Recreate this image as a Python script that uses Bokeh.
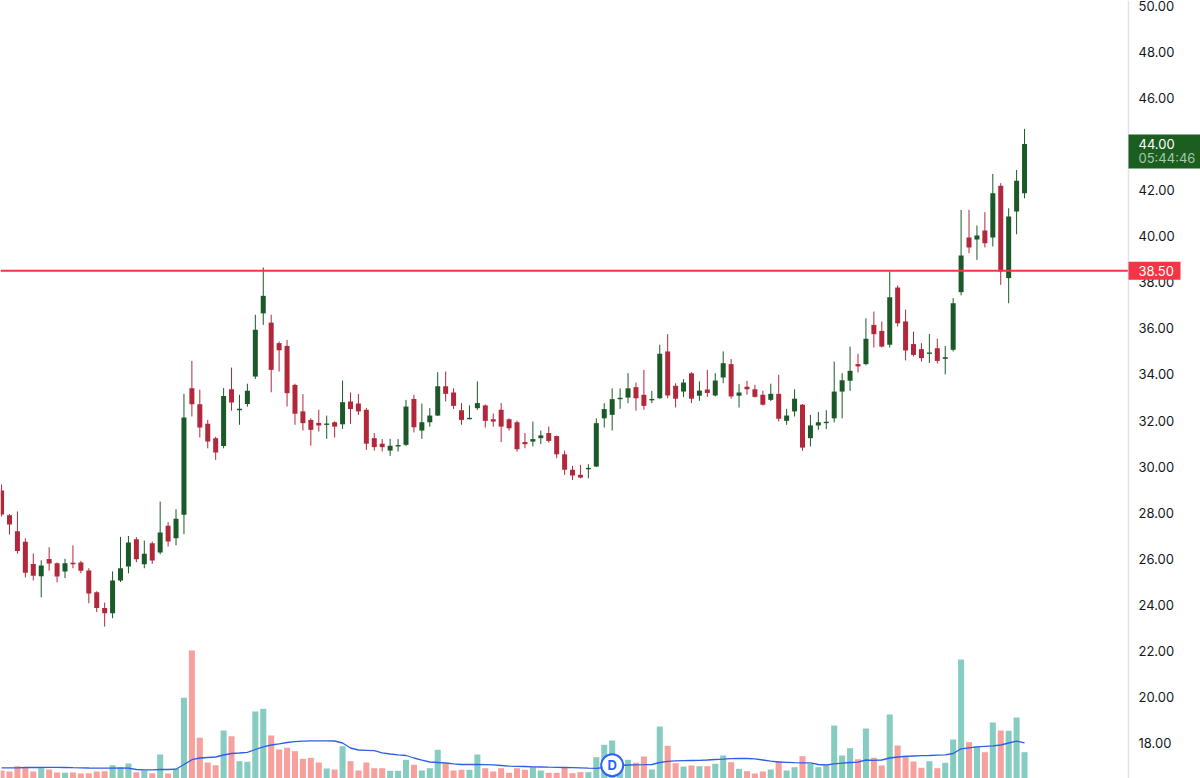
from bokeh.plotting import figure
from bokeh.models import ColumnDataSource, Range1d, FixedTicker, NumeralTickFormatter, Span
from bokeh.embed import file_html
from bokeh.resources import INLINE
from bokeh.core.properties import value

# ---------------- data ----------------
opens = [28.97, 27.9, 27.2, 26.75, 25.78, 25.25, 26.0, 25.82, 25.46, 25.83,
         25.85, 25.5, 24.56, 23.87, 23.65, 25.07, 25.67, 26.86, 25.77, 26.68,
         26.28, 27.44, 26.9, 27.92, 33.4, 32.71, 31.86, 31.24, 30.9, 33.36,
         32.47, 32.72, 33.91, 36.65, 36.25, 35.36, 35.24, 33.55, 32.4, 32.03,
         31.9, 31.83, 31.93, 31.84, 32.83, 32.74, 32.47, 31.24, 31.0, 30.7,
         30.9, 30.95, 32.94, 31.57, 31.93, 32.22, 33.49, 33.22, 32.45, 32.08,
         32.54, 32.66, 32.06, 32.47, 32.06, 31.93, 31.07, 31.09, 31.24, 31.46,
         31.33, 30.54, 29.87, 29.65, 29.9, 30.01, 32.1, 32.25, 32.95, 33.0,
         33.45, 33.12, 32.89, 32.97, 35.0, 33.51, 33.26, 34.05, 33.08, 33.35,
         33.09, 33.87, 34.45, 33.08, 33.47, 33.36, 33.12, 32.9, 33.16, 31.99,
         32.4, 32.69, 31.24, 31.79, 31.91, 32.1, 33.26, 33.73, 34.45, 34.45,
         36.15, 35.89, 35.29, 37.77, 36.3, 35.32, 35.1, 34.91, 35.14, 34.68,
         35.07, 37.57, 39.94, 39.85, 40.24, 39.94, 42.18, 38.18, 41.07, 41.86]

highs = [29.23, 27.95, 28.06, 26.9, 26.24, 25.94, 26.51, 25.85, 26.01, 26.59,
         25.92, 25.6, 24.6, 24.11, 25.46, 26.96, 27.0, 26.95, 26.8, 26.76,
         28.49, 27.6, 28.16, 33.16, 34.59, 33.34, 32.03, 31.3, 33.41, 34.3,
         33.12, 33.6, 36.59, 38.64, 36.59, 35.43, 35.5, 33.6, 33.15, 32.1,
         32.47, 32.22, 31.97, 33.74, 33.22, 33.15, 32.55, 31.46, 31.2, 31.21,
         31.2, 32.9, 33.12, 32.74, 32.54, 34.1, 34.13, 33.4, 32.76, 32.66,
         33.7, 32.7, 32.31, 32.76, 32.1, 32.0, 31.46, 31.96, 31.57, 31.74,
         31.35, 30.7, 30.04, 30.08, 30.11, 32.1, 32.76, 33.4, 33.4, 34.06,
         33.65, 34.2, 33.29, 35.29, 35.75, 33.62, 33.8, 34.1, 33.7, 34.2,
         34.06, 35.0, 34.67, 33.58, 33.73, 33.55, 33.29, 33.6, 33.99, 32.51,
         33.36, 32.72, 32.25, 32.37, 32.45, 34.56, 34.06, 35.21, 34.9, 36.44,
         36.73, 36.3, 38.47, 37.86, 36.81, 35.86, 35.36, 35.76, 35.55, 35.24,
         37.31, 41.14, 41.14, 40.46, 41.04, 42.7, 42.3, 41.21, 42.87, 44.65]

lows = [27.84, 27.06, 26.23, 25.2, 25.07, 24.34, 25.49, 24.99, 25.17, 25.6,
        25.38, 24.08, 23.7, 23.07, 23.43, 25.0, 25.38, 25.86, 25.6, 25.79,
        26.2, 26.54, 26.59, 27.08, 32.18, 31.27, 30.8, 30.3, 30.8, 32.43,
        31.82, 32.6, 33.81, 36.15, 33.23, 34.13, 32.61, 31.82, 31.57, 30.92,
        31.53, 31.21, 31.27, 31.64, 31.86, 32.25, 30.73, 30.7, 30.66, 30.47,
        30.66, 30.9, 31.49, 31.21, 31.74, 32.2, 32.83, 32.5, 31.82, 32.06,
        32.47, 31.7, 31.74, 31.07, 31.57, 30.66, 30.8, 30.88, 30.98, 31.05,
        30.37, 29.65, 29.43, 29.5, 29.5, 29.98, 31.7, 31.57, 32.51, 32.76,
        32.43, 32.47, 32.76, 32.95, 32.97, 32.57, 33.02, 32.76, 32.86, 33.03,
        33.05, 33.62, 32.95, 32.57, 33.12, 33.0, 32.65, 32.85, 31.96, 31.82,
        32.18, 30.69, 30.88, 31.6, 31.63, 31.92, 32.1, 33.29, 34.09, 34.4,
        35.17, 35.17, 35.17, 36.08, 34.61, 34.78, 34.56, 34.5, 34.48, 34.01,
        35.0, 37.43, 39.26, 38.97, 39.51, 39.55, 37.89, 37.09, 40.08, 41.64]

closes = [27.93, 27.5, 26.35, 25.4, 25.27, 25.72, 25.8, 25.24, 25.82, 25.78,
          25.49, 24.5, 23.87, 23.65, 25.07, 25.6, 26.72, 25.99, 26.23, 25.94,
          27.15, 26.76, 27.74, 32.14, 32.71, 31.7, 31.1, 30.62, 33.07, 32.79,
          32.5, 33.3, 35.94, 37.41, 34.2, 35.05, 33.19, 32.3, 31.89, 31.6,
          31.79, 31.86, 31.74, 32.8, 32.5, 32.4, 31.0, 30.85, 30.85, 30.91,
          30.92, 32.61, 31.71, 31.93, 32.22, 33.49, 33.16, 32.64, 32.03, 32.1,
          32.76, 31.99, 31.96, 31.74, 31.67, 30.76, 30.98, 31.2, 31.36, 31.12,
          30.54, 29.87, 29.62, 29.53, 29.94, 31.89, 32.5, 32.93, 32.97, 33.4,
          32.97, 32.64, 32.93, 34.9, 33.09, 32.95, 33.65, 32.95, 33.3, 33.2,
          33.74, 34.49, 33.05, 33.22, 33.36, 33.03, 32.69, 33.16, 32.08, 32.22,
          32.95, 30.83, 31.79, 31.93, 31.93, 33.26, 33.75, 34.16, 34.35, 35.55,
          35.75, 35.21, 37.35, 36.22, 35.04, 34.85, 34.71, 34.94, 34.59, 34.75,
          37.09, 39.16, 39.51, 40.03, 39.69, 41.86, 38.47, 40.85, 42.4, 44.0]

# volume in thousands
volumes = [200, 190, 243, 227, 190, 223, 210, 180, 177, 180,
           170, 173, 190, 193, 253, 227, 270, 183, 200, 173,
           360, 170, 217, 927, 1400, 527, 280, 253, 600, 543,
           293, 287, 790, 817, 550, 410, 427, 393, 317, 327,
           280, 220, 210, 443, 293, 200, 280, 223, 223, 197,
           197, 307, 257, 200, 223, 407, 267, 200, 207, 207,
           360, 223, 190, 223, 177, 223, 207, 233, 200, 177,
           177, 227, 173, 183, 183, 333, 457, 500, 270, 307,
           277, 340, 210, 640, 447, 273, 240, 250, 243, 243,
           267, 350, 283, 217, 193, 170, 190, 210, 293, 200,
           233, 343, 267, 233, 250, 650, 350, 423, 313, 620,
           327, 250, 760, 450, 350, 290, 227, 293, 223, 277,
           510, 1310, 483, 443, 383, 680, 600, 597, 730, 383]

volume_ma = [227, 227, 227, 230, 230, 230, 231, 231, 230, 228,
             227, 225, 224, 224, 224, 225, 223, 210, 207, 207,
             210, 210, 213, 260, 308, 325, 330, 335, 355, 370,
             375, 382, 410, 437, 455, 467, 480, 488, 493, 497,
             497, 497, 495, 475, 425, 405, 402, 398, 377, 365,
             357, 350, 325, 304, 285, 280, 275, 267, 260, 260,
             260, 259, 257, 250, 243, 242, 240, 237, 235, 233,
             232, 230, 228, 226, 223, 221, 230, 240, 250, 255,
             257, 258, 260, 280, 292, 296, 298, 300, 302, 305,
             310, 313, 318, 320, 320, 317, 305, 293, 285, 282,
             278, 277, 277, 260, 255, 267, 274, 280, 283, 305,
             302, 305, 325, 335, 342, 345, 348, 350, 353, 356,
             370, 417, 427, 437, 442, 447, 455, 475, 493, 477]

price_ticks = [18, 20, 22, 24, 26, 28, 30, 32, 34, 36, 38, 40, 42, 44, 46, 48, 50]
level_price = 38.50
last_price = 44.00
countdown = "05:44:46"
event_index = [77]
event_text = ["D"]

# ---------------- styling / layout ----------------
GREEN = "#1b5a28"
RED = "#b2283a"
VOL_UP = "#86ccc1"
VOL_DN = "#f7a09d"
LEVEL_RED = "#f23645"
LAST_GREEN = "#1b5e20"
FONT = "Inter"

X0, X1 = -0.135, 151.19          # candle-index range across the canvas
Y0, Y1 = 16.482, 50.217          # price range across the canvas
PX = (X1 - X0) / 1200.0          # index units per pixel
PY = (Y1 - Y0) / 778.0           # price units per pixel
AXIS_X = X1 - 72 * PX            # price-scale separator position
TEXT_X = AXIS_X + 10 * PX

n = len(closes)
idx = list(range(n))
up = [c >= o for o, c in zip(opens, closes)]
colors = [GREEN if u else RED for u in up]
vcolors = [VOL_UP if u else VOL_DN for u in up]
body_top = [max(o, c) for o, c in zip(opens, closes)]
body_bot = [min(o, c) for o, c in zip(opens, closes)]
body_top = [t if t - b >= 0.06 else (t + b) / 2 + 0.03 for t, b in zip(body_top, body_bot)]
body_bot = [b if t - b >= 0.06 else t - 0.06 for t, b in zip(body_top, body_bot)]

p = figure(width=1200, height=778,
           x_range=Range1d(X0, X1), y_range=Range1d(Y0, Y1),
           output_backend="svg", toolbar_location=None,
           x_axis_location=None, y_axis_location="right",
           min_border_left=0, min_border_top=0, min_border_bottom=0, min_border_right=0)
p.outline_line_color = None
p.grid.visible = False
p.background_fill_color = "white"
p.border_fill_color = "white"
p.extra_y_ranges = {"vol": Range1d(120, 7900)}

# price scale: labels pulled back inside the canvas, left-aligned after the separator
ax = p.yaxis[0]
ax.ticker = FixedTicker(ticks=price_ticks)
ax.formatter = NumeralTickFormatter(format="0.00")
ax.major_tick_line_color = None
ax.minor_tick_line_color = None
ax.major_tick_out = 0
ax.major_tick_in = 0
ax.minor_tick_out = 0
ax.major_label_standoff = -62
ax.axis_line_color = None
ax.major_label_text_font = FONT
ax.major_label_text_font_size = "13px"
ax.major_label_text_color = "#131722"

p.add_layout(Span(location=AXIS_X, dimension="height", line_color="#e0e3eb", line_width=1.5))

# volume
vsrc = ColumnDataSource(dict(x=idx, top=volumes, color=vcolors))
p.vbar(x="x", top="top", bottom=0, width=0.76, fill_color="color", line_color=None,
       y_range_name="vol", source=vsrc)
p.line(idx, volume_ma, y_range_name="vol", line_color="#2f5fe6", line_width=1.3)

# candles
csrc = ColumnDataSource(dict(x=idx, high=highs, low=lows, top=body_top, bot=body_bot, color=colors))
p.segment(x0="x", y0="low", x1="x", y1="high", line_color="color", line_width=1, source=csrc)
p.vbar(x="x", top="top", bottom="bot", width=0.63, fill_color="color", line_color=None, source=csrc)

# level line up to the price scale
p.segment(x0=[X0], y0=[level_price], x1=[AXIS_X], y1=[level_price], line_color=LEVEL_RED, line_width=2)

# event marker
esrc = ColumnDataSource(dict(x=event_index, y=[253] * len(event_index), t=event_text))
p.scatter(x="x", y="y", size=22, marker="circle", fill_color="white", line_color="#2962ff",
          line_width=2, y_range_name="vol", source=esrc)
p.text(x="x", y="y", text="t", text_font=value(FONT), text_font_style="bold", text_font_size="13px",
       text_color="#2962ff", text_align="center", text_baseline="middle", y_range_name="vol", source=esrc)

# price tags on the scale (drawn above the scale labels)
p.quad(left=[AXIS_X], right=[AXIS_X + 52 * PX], bottom=[level_price - 9 * PY], top=[level_price + 9 * PY],
       fill_color=LEVEL_RED, line_color=None, level="overlay")
p.quad(left=[AXIS_X], right=[X1 + 1], bottom=[last_price - 24.6 * PY], top=[last_price + 9.4 * PY],
       fill_color=LAST_GREEN, line_color=None, level="overlay")
tag_common = dict(text_font=value(FONT), text_font_size="13px", text_align="left",
                  text_baseline="middle", level="overlay")
p.text(x=[TEXT_X], y=[level_price], text=[f"{level_price:.2f}"], text_color="white", **tag_common)
p.text(x=[TEXT_X], y=[last_price - 0.6 * PY], text=[f"{last_price:.2f}"], text_color="white", **tag_common)
p.text(x=[TEXT_X], y=[last_price - 14.6 * PY], text=[countdown], text_color="#a3c9a8", **tag_common)

open("out.html", "w").write(file_html(p, INLINE))
